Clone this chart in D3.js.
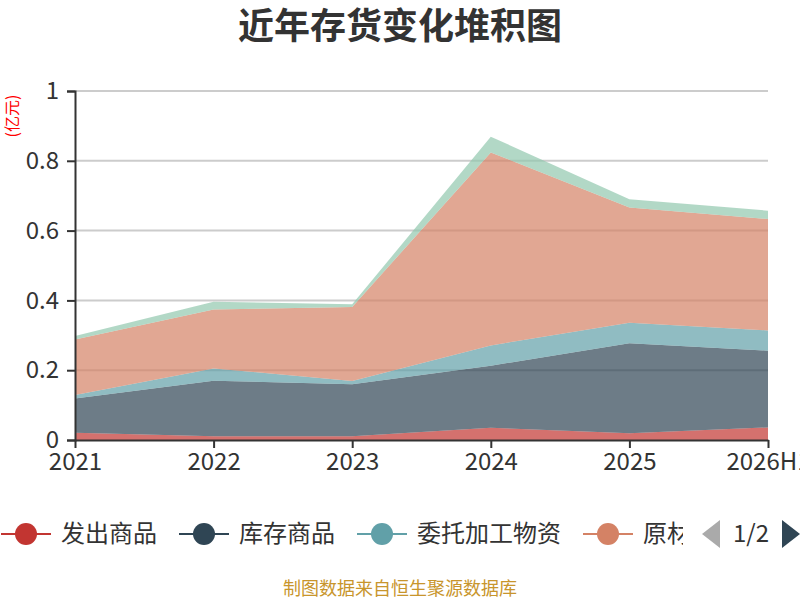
<!DOCTYPE html>
<html>
<head>
<meta charset="utf-8">
<script src="https://cdn.jsdelivr.net/npm/d3@7/dist/d3.min.js"></script>
<style>
  body { margin: 0; background: #fff; }
  svg { display: block; }
  text { font-family: "Noto Sans CJK SC", "Noto Sans", sans-serif; }
</style>
</head>
<body>
<svg id="chart" width="800" height="600"></svg>
<script>
// categories and series values (亿元)
var years = ['2021', '2022', '2023', '2024', '2025', '2026H1'];
var seriesNames = ['发出商品', '库存商品', '委托加工物资', '原材料', '在产品'];
var shipped   = [0.021, 0.011, 0.011, 0.035, 0.019, 0.036];
var finished  = [0.098, 0.159, 0.149, 0.178, 0.258, 0.220];
var consigned = [0.010, 0.035, 0.009, 0.058, 0.059, 0.058];
var material  = [0.159, 0.169, 0.212, 0.553, 0.330, 0.319];
var wip       = [0.010, 0.022, 0.008, 0.045, 0.024, 0.024];
var yTicks = [0, 0.2, 0.4, 0.6, 0.8, 1];
var colors = ['#c23531', '#2f4554', '#61a0a8', '#d48265', '#91c7ae'];

var svg = d3.select('#chart');
var margin = { left: 75, right: 32, top: 91, bottom: 160 };
var width = 800 - margin.left - margin.right;
var height = 600 - margin.top - margin.bottom;

// table for the stack
var rows = years.map(function (y, i) {
  return { year: y, s0: shipped[i], s1: finished[i], s2: consigned[i], s3: material[i], s4: wip[i] };
});
var keys = ['s0', 's1', 's2', 's3', 's4'];
var stacked = d3.stack().keys(keys)(rows);

var x = d3.scalePoint().domain(years).range([0, width]);
var y = d3.scaleLinear().domain([0, 1]).range([height, 0]);

// title
svg.append('text')
  .attr('x', 400).attr('y', 39)
  .attr('text-anchor', 'middle')
  .style('font-size', '36px').style('font-weight', 'bold').style('fill', '#333')
  .text('近年存货变化堆积图');

// unit label
svg.append('text')
  .attr('transform', 'translate(18,116) rotate(-90)')
  .attr('text-anchor', 'middle')
  .style('font-size', '16px').style('fill', '#ff0000')
  .text('(亿元)');

var g = svg.append('g').attr('transform', 'translate(' + margin.left + ',' + margin.top + ')');

// gridlines
g.selectAll('.grid').data(yTicks.slice(1)).enter().append('line')
  .attr('class', 'grid')
  .attr('x1', 0).attr('x2', width)
  .attr('y1', function (d) { return y(d); }).attr('y2', function (d) { return y(d); })
  .style('stroke', '#ccc').style('stroke-width', 2);

// stacked areas
var area = d3.area()
  .x(function (d) { return x(d.data.year); })
  .y0(function (d) { return y(d[0]); })
  .y1(function (d) { return y(d[1]); });

g.selectAll('.layer').data(stacked).enter().append('path')
  .attr('class', 'layer')
  .attr('d', area)
  .style('fill', function (d, i) { return colors[i]; })
  .style('fill-opacity', 0.7);

// y axis
var yAxis = g.append('g')
  .call(d3.axisLeft(y).tickValues(yTicks).tickSize(8).tickPadding(8)
    .tickFormat(function (d) { return d === 0 || d === 1 ? d3.format('d')(d) : d3.format('.1f')(d); }));
yAxis.select('.domain').style('stroke', '#333').style('stroke-width', 2);
yAxis.selectAll('.tick line').style('stroke', '#333').style('stroke-width', 2);
yAxis.selectAll('.tick text').style('font-size', '24px').style('fill', '#333')
  .style('font-family', '"Noto Sans CJK SC", sans-serif');

// x axis
var xAxis = g.append('g').attr('transform', 'translate(0,' + height + ')')
  .call(d3.axisBottom(x).tickSize(8).tickPadding(5).tickSizeOuter(0));
xAxis.select('.domain').style('stroke', '#333').style('stroke-width', 2);
xAxis.selectAll('.tick line').style('stroke', '#333').style('stroke-width', 2);
xAxis.selectAll('.tick text').style('font-size', '24px').style('fill', '#333')
  .style('font-family', '"Noto Sans CJK SC", sans-serif');

// legend, clipped like a scrolling legend on page 1/2
svg.append('clipPath').attr('id', 'legclip')
  .append('rect').attr('x', 0).attr('y', 500).attr('width', 683).attr('height', 70);

var legend = svg.append('g').attr('clip-path', 'url(#legclip)');
var lx = 1;
var ly = 534;
seriesNames.forEach(function (name, i) {
  var item = legend.append('g').attr('transform', 'translate(' + lx + ',' + ly + ')');
  item.append('line').attr('x1', 0).attr('x2', 50).attr('y1', 0).attr('y2', 0)
    .style('stroke', colors[i]).style('stroke-width', 2);
  item.append('circle').attr('cx', 25).attr('cy', 0).attr('r', 11).style('fill', colors[i]);
  var t = item.append('text').attr('x', 60).attr('y', 0).attr('dy', '0.35em')
    .style('font-size', '24px').style('fill', '#333').text(name);
  var w = t.node().getComputedTextLength();
  lx += 60 + w + 22;
});

// pager
svg.append('path').attr('d', 'M720,520 L720,548 L702,534 Z').style('fill', '#aaa');
svg.append('text').attr('x', 751).attr('y', 534).attr('dy', '0.35em')
  .attr('text-anchor', 'middle').style('font-size', '24px').style('fill', '#333').text('1/2');
svg.append('path').attr('d', 'M782,520 L782,548 L800,534 Z').style('fill', '#2f4554');

// source note
svg.append('text')
  .attr('x', 400).attr('y', 589).attr('dy', '0.35em')
  .attr('text-anchor', 'middle')
  .style('font-size', '18px').style('fill', '#c8952c')
  .text('制图数据来自恒生聚源数据库');
</script>
</body>
</html>
